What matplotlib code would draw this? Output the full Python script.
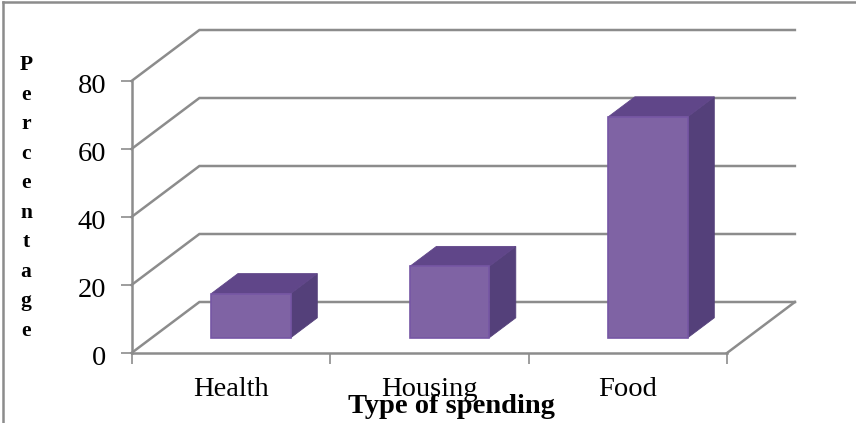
#!/usr/bin/env python3
"""3D-look bar chart of spending, faked with polygons on a plain 2D axes."""
import matplotlib; matplotlib.use('Agg')
import matplotlib.pyplot as plt
from matplotlib.patches import Polygon
from matplotlib.lines import Line2D
from matplotlib.transforms import ScaledTranslation

categories = ['Health', 'Housing', 'Food']
values = [13, 21, 65]
y_ticks = [0, 20, 40, 60, 80]
y_label = 'Percentage'
x_label = 'Type of spending'

GRAY = '#8c8c8c'
LW = 1.8
# depth of the floor, in data units (x categories, y percent)
DX, DY = 0.342, 15.0
D0, D1 = 0.30, 0.69  # bar start/end along the depth
BAR_W = 0.40

plt.rcParams['font.family'] = ['Liberation Serif', 'DejaVu Serif']

fig = plt.figure(figsize=(8.56, 4.23), dpi=100)
ax = fig.add_axes([131.5 / 856, 70 / 423, 595.5 / 856, 272 / 423])
ax.set_xlim(0, 3); ax.set_ylim(0, 80)


def proj(x, y, d):
    return (x + d * DX, y + d * DY)


# walls and floor
for v in y_ticks:
    ax.plot(*zip(proj(0, v, 0), proj(0, v, 1), proj(3, v, 1)), color=GRAY, lw=LW,
            clip_on=False, zorder=1, solid_joinstyle='miter')
ax.plot(*zip(proj(3, 0, 0), proj(3, 0, 1)), color=GRAY, lw=LW, clip_on=False, zorder=1)

# bars: side, top, then front
for i, v in enumerate(values):
    l = i + 0.5 - BAR_W / 2; r = i + 0.5 + BAR_W / 2
    side = [proj(r, 0, D0), proj(r, 0, D1), proj(r, v, D1), proj(r, v, D0)]
    top = [proj(l, v, D0), proj(r, v, D0), proj(r, v, D1), proj(l, v, D1)]
    front = [proj(l, 0, D0), proj(r, 0, D0), proj(r, v, D0), proj(l, v, D0)]
    ax.add_patch(Polygon(side, fc='#54407a', ec='#54407a', lw=0.6, clip_on=False, zorder=3))
    ax.add_patch(Polygon(top, fc='#604689', ec='#604689', lw=0.6, clip_on=False, zorder=3))
    ax.add_patch(Polygon(front, fc='#7f63a4', ec='#7656a4', lw=1.2, clip_on=False, zorder=4))

for s in ('top', 'right'):
    ax.spines[s].set_visible(False)
for s in ('left', 'bottom'):
    ax.spines[s].set_color(GRAY); ax.spines[s].set_linewidth(LW); ax.spines[s].set_zorder(2)

ax.set_yticks(y_ticks)
ax.set_xticks([0, 1, 2, 3]); ax.set_xticklabels([])
ax.set_xticks([0.5, 1.5, 2.5], categories, minor=True)
ax.tick_params(axis='y', length=8, width=1.2, color=GRAY, labelsize=20.5, pad=10)
ax.tick_params(axis='x', which='major', length=8, width=1.2, color=GRAY)
ax.tick_params(axis='x', which='minor', length=0, labelsize=20.5, pad=17)

# the y numbers sit a little under their ticks
for lab in ax.get_yticklabels():
    lab.set_transform(lab.get_transform() + ScaledTranslation(0, -2.5 / 100, fig.dpi_scale_trans))

fig.text(451 / 856, 1 - 406 / 423, x_label, fontsize=20.5, fontweight='bold',
         ha='center', va='center')
fig.text(26 / 856, 1 - 198 / 423, '\n'.join(y_label), fontsize=15.5, fontweight='bold',
         ha='center', va='center', linespacing=1.63)

# picture border, left and top only
fig.add_artist(Line2D([3.5 / 856, 3.5 / 856], [0, 1 - 2 / 423], color=GRAY, lw=LW))
fig.add_artist(Line2D([3.5 / 856, 1], [1 - 2 / 423, 1 - 2 / 423], color=GRAY, lw=LW))

fig.savefig('out.png', dpi=100)
